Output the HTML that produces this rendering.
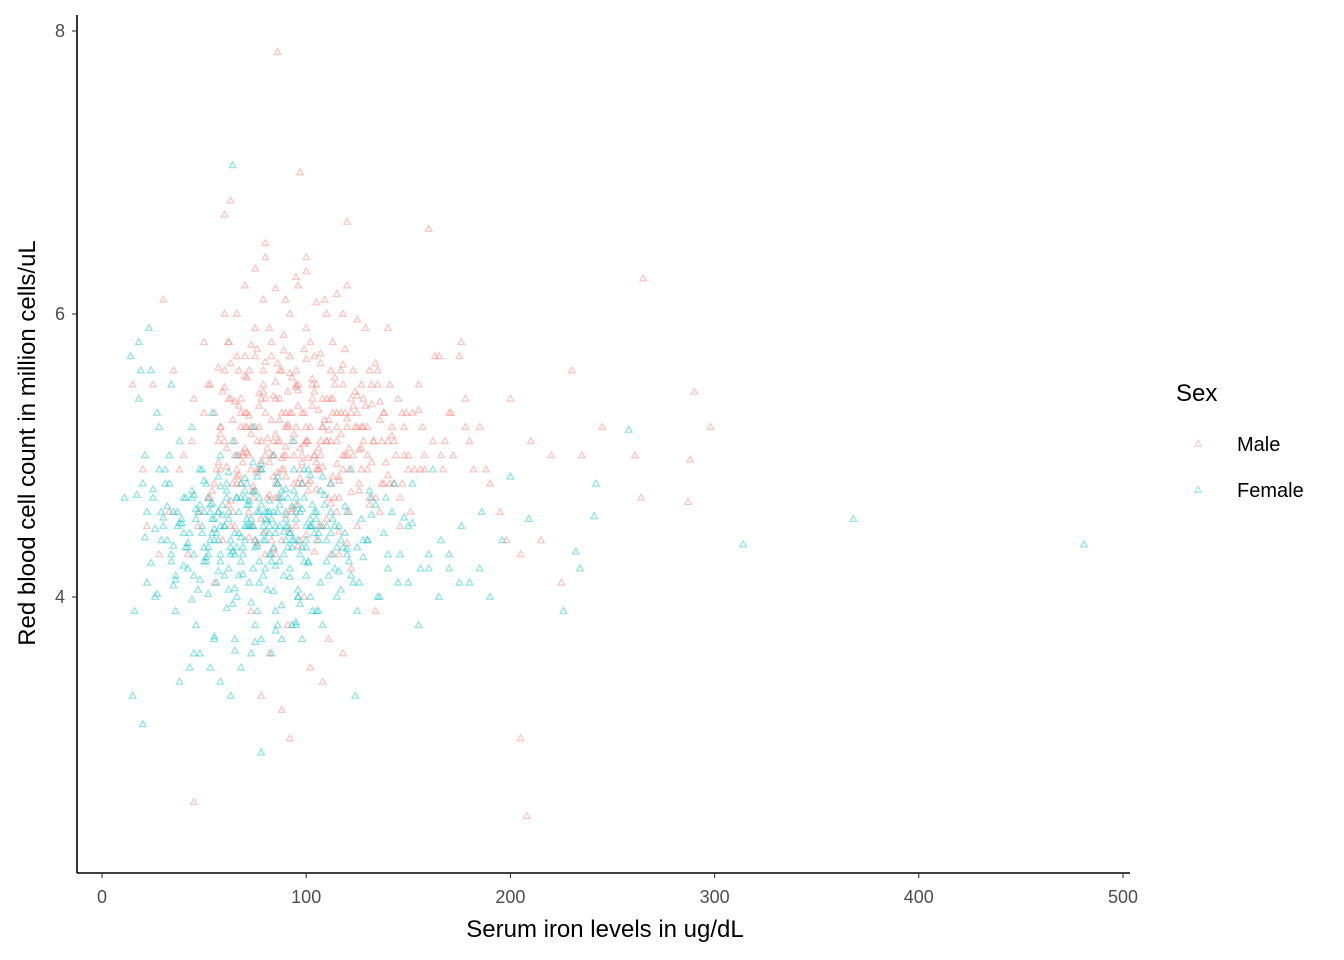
<!DOCTYPE html>
<html><head><meta charset="utf-8">
<style>
html,body{margin:0;padding:0;background:#fff;}
svg{display:block;font-family:"Liberation Sans",sans-serif;}
</style></head>
<body>
<svg id="chart" width="1344" height="960" xmlns="http://www.w3.org/2000/svg"></svg>
<script>
const xTicks=[0,100,200,300,400,500];
const yTicks=[4,6,8];
const seriesNames=["Male","Female"];
const maleX=[86,97,63,265,208,45,205,298,290,288,261,264,287,160,120,60,70,80,90,100,110,120,85,95,75,65,55,105,115,125,130,140,150,145,135,
58,68,78,88,98,108,118,128,138,148,52,62,72,82,92,102,112,122,132,142,152,162,172,182,66,76,86,96,106,116,126,136,146,156,166,
40,45,50,35,30,25,20,15,170,180,190,200,210,220,230,175,185,195,205,215,225,235,245,
60,70,80,90,100,110,65,75,85,95,105,115,125,57,67,77,87,97,107,117,
48,58,68,78,88,98,108,118,128,138,148,158,168,178,53,63,73,83,93,103,113,123,133,143,
42,55,73,82,91,99,111,122,134,155,165,176,188,198,60,80,100,120,140,33,38,44,28,22,
62,71,79,84,93,101,113,119,127,137,147,157,167,55,66,74,89,94,104,112,121,131,141,151,
70,90,110,130,150,80,100,120,85,95,105,115,72,83,78,88,92,102,108,118,
61,64,69,73,77,81,84,87,91,94,98,103,106,109,113,117,123,127,132,136,
59,63,67,71,76,79,83,86,89,93,96,99,104,107,111,114,119,124,129,134,
54,57,62,66,70,74,78,82,85,90,95,97,101,105,110,116,121,126,131,139,
65,68,72,75,80,84,88,92,96,100,104,108,112,115,118,124,128,133,144,149,
56,60,64,69,73,77,81,86,90,94,98,102,106,110,114,119,125,130,137,143,
50,53,58,63,67,71,76,79,83,87,91,95,99,103,107,112,117,122,127,135,
47,52,59,64,68,74,80,85,89,93,97,101,106,111,116,121,138,146,153,158,
62,66,70,75,79,83,87,92,96,100,104,109,113,118,123,129,141,163,171,178,
58,61,65,69,72,76,81,84,88,91,95,99,102,106,111,115,120,126,132,142,
63,67,71,74,78,82,86,90,93,97,101,105,108,112,116,122,127,134,140,147,
57,60,66,70,73,77,80,85,89,92,96,100,103,107,114,118,125,131,136,155,
72,76,80,84,88,92,96,100,104,108,112,116,120,75,85,95,105,115,125,90];
const maleY=[7.85,7.0,6.8,6.25,2.45,2.55,3.0,5.2,5.45,4.97,5.0,4.7,4.67,6.6,6.65,5.6,5.3,5.0,5.2,5.1,5.4,5.0,4.8,5.5,5.7,5.0,5.3,4.9,5.2,5.3,5.0,5.1,4.9,5.4,5.6,
5.2,5.4,5.1,5.3,5.0,5.2,5.5,5.1,5.3,5.0,5.5,5.8,5.6,5.9,5.7,5.8,5.6,5.4,5.5,5.2,5.3,5.1,5.0,4.9,4.8,4.9,4.7,4.8,4.9,4.7,4.8,4.6,4.7,4.9,5.0,
5.0,5.4,5.8,5.6,6.1,5.5,4.9,5.5,5.3,5.1,4.8,5.4,5.1,5.0,5.6,5.7,5.2,4.6,4.3,4.4,4.1,5.0,5.2,
6.0,6.2,6.4,6.1,6.3,6.0,4.5,4.4,4.3,4.5,4.4,4.6,4.5,5.1,5.0,5.2,5.1,4.9,5.0,5.3,
4.6,4.9,5.2,5.4,5.6,5.3,5.2,5.0,5.2,5.3,5.2,4.9,5.1,5.2,4.7,4.5,4.9,5.0,5.1,5.4,5.3,5.0,5.1,4.8,
4.3,4.1,3.9,3.6,3.8,4.0,3.7,4.2,3.9,5.5,5.7,5.8,4.9,4.4,6.7,6.5,6.4,6.2,5.9,4.6,4.9,5.1,4.3,4.5,
5.4,5.2,5.6,5.0,5.3,5.1,5.4,5.3,5.5,5.1,5.3,5.2,4.9,4.8,4.9,4.7,5.0,4.8,5.0,4.8,4.9,4.7,4.8,4.6,
5.2,5.0,5.1,5.2,5.0,5.3,5.1,5.2,5.4,5.2,5.5,5.1,4.6,4.4,3.3,3.2,3.0,3.5,3.4,3.6,
5.05,5.25,4.95,5.15,5.35,5.05,4.85,5.25,5.45,5.15,4.95,5.35,5.05,5.25,4.85,5.15,5.35,5.05,4.95,5.25,
5.45,5.65,5.35,5.55,5.75,5.45,5.25,5.65,5.85,5.55,5.35,5.75,5.45,5.65,5.25,5.55,5.75,5.45,5.35,5.65,
4.75,4.95,4.65,4.85,5.05,4.75,4.55,4.95,5.15,4.85,4.65,5.05,4.75,4.95,4.55,4.85,5.05,4.75,4.65,4.95,
5.1,5.3,5.0,5.2,5.4,5.1,4.9,5.3,5.5,5.2,5.0,5.4,5.1,5.3,4.9,5.2,5.4,5.1,5.0,5.3,
4.9,5.1,4.8,5.0,5.2,4.9,4.7,5.1,5.3,5.0,4.8,5.2,4.9,5.1,4.7,5.0,5.2,4.9,4.8,5.1,
5.3,5.5,5.2,5.4,5.6,5.3,5.1,5.5,5.7,5.4,5.2,5.6,5.3,5.5,5.1,5.4,5.6,5.3,5.2,5.5,
4.5,4.7,4.4,4.6,4.8,4.5,4.3,4.7,4.9,4.6,4.4,4.8,4.5,4.7,4.3,4.6,4.8,4.5,4.9,5.0,
5.8,6.0,5.7,5.9,6.1,5.8,5.6,6.0,6.2,5.9,5.7,6.1,5.8,6.0,5.6,5.9,5.5,5.7,5.3,5.4,
5.15,4.92,5.38,5.02,5.28,4.88,5.12,5.42,4.98,5.22,5.48,5.08,4.82,5.32,5.18,4.94,5.26,5.04,5.36,5.14,
4.68,4.86,5.02,4.78,4.96,4.72,4.88,5.06,4.62,4.84,4.98,4.76,4.92,4.66,4.82,4.74,4.9,4.7,4.86,4.8,
5.62,5.48,5.7,5.56,5.78,5.44,5.66,5.52,5.74,5.58,5.46,5.68,5.54,5.72,5.5,5.64,5.42,5.6,5.38,5.32,
4.42,4.38,4.46,4.34,4.4,4.48,4.36,4.44,4.32,4.5,4.3,4.46,4.38,6.32,6.18,6.26,6.08,6.14,5.96,4.58];
const femaleX=[64,481,368,314,258,242,241,232,234,226,209,200,15,20,124,78,
60,70,80,90,100,50,40,30,20,65,75,85,95,55,45,35,25,110,120,130,140,150,160,170,
62,72,82,92,102,52,42,32,22,68,78,88,98,58,48,38,28,18,112,122,132,142,152,162,
66,76,86,96,106,56,46,36,26,16,114,126,136,146,156,166,176,186,196,
61,71,81,91,101,51,41,31,21,11,64,74,84,94,54,44,34,24,14,
60,70,80,90,100,110,120,130,140,150,160,170,180,190,
57,67,77,87,97,107,117,53,63,73,83,93,103,113,123,
45,55,65,75,85,95,105,115,125,135,145,155,165,175,185,
38,43,48,53,58,63,68,73,78,83,88,93,98,103,108,18,19,23,27,33,
62,71,79,86,94,58,49,37,29,68,77,84,91,99,105,116,128,
58,63,69,74,79,89,96,102,47,52,57,66,72,76,82,87,
41,46,50,54,59,63,67,71,75,79,83,87,91,95,100,104,109,115,121,127,
39,44,49,53,57,62,66,70,74,78,82,86,90,94,98,103,108,113,119,131,
36,42,47,51,56,60,64,69,73,77,81,85,89,93,97,101,106,111,117,125,
43,48,52,55,61,65,68,72,76,80,84,88,92,96,99,102,107,112,118,134,
34,40,45,50,54,58,62,67,71,75,79,83,87,92,96,100,105,110,122,138,
29,33,37,44,49,53,57,61,66,70,74,78,82,86,90,95,99,104,114,143,
38,42,46,51,55,59,64,68,72,76,81,85,89,93,97,102,106,112,120,148,
35,40,44,48,52,57,61,65,69,73,77,80,84,88,92,96,101,107,116,128,
45,50,54,58,62,66,70,74,78,82,86,90,94,98,102,109,119,132,139,152,
17,22,26,31,35,39,24,28,32,36,21,25,30,34,27,55,65,75,85,95];
const femaleY=[7.05,4.37,4.55,4.37,5.18,4.8,4.57,4.32,4.2,3.9,4.55,4.85,3.3,3.1,3.3,2.9,
4.5,4.4,4.6,4.5,4.4,4.6,4.7,4.5,4.8,4.3,4.4,4.5,4.6,4.4,4.3,4.6,4.7,4.5,4.6,4.4,4.3,4.5,4.2,4.3,
4.2,4.1,4.3,4.2,4.0,4.3,4.2,4.4,4.1,4.8,4.9,4.7,4.8,5.0,4.9,5.1,5.2,5.4,4.8,4.9,4.7,4.6,4.8,4.9,
4.0,3.9,3.8,4.0,3.9,4.1,3.8,3.9,4.0,3.9,4.2,4.1,4.0,4.3,4.2,4.4,4.5,4.6,4.4,
4.7,4.8,4.6,4.7,4.9,4.8,4.7,4.9,5.0,4.7,5.1,5.2,5.0,5.1,5.3,5.2,5.5,5.6,5.7,
4.5,4.5,4.4,4.6,4.5,4.4,4.3,4.4,4.2,4.1,4.3,4.2,4.1,4.0,
4.6,4.6,4.7,4.5,4.6,4.5,4.4,4.4,4.3,4.5,4.3,4.4,4.5,4.3,4.1,
3.6,3.7,3.7,3.8,3.9,3.8,3.9,4.0,3.9,4.0,4.1,3.8,4.0,4.1,4.2,
3.4,3.5,3.6,3.5,3.4,3.3,3.5,3.6,3.7,3.6,3.7,3.8,3.7,3.9,3.8,5.8,5.6,5.9,5.3,5.0,
4.6,4.5,4.5,4.6,4.4,4.5,4.5,4.6,4.4,4.7,4.6,4.6,4.5,4.7,4.6,4.5,4.4,
4.3,4.4,4.3,4.2,4.4,4.3,4.4,4.5,4.6,4.7,4.6,4.7,4.5,4.6,4.5,4.7,
4.35,4.55,4.25,4.45,4.65,4.35,4.15,4.55,4.75,4.45,4.25,4.65,4.35,4.55,4.15,4.45,4.65,4.35,4.25,4.55,
4.55,4.75,4.45,4.65,4.85,4.55,4.35,4.75,4.95,4.65,4.45,4.85,4.55,4.75,4.35,4.65,4.85,4.55,4.45,4.75,
4.15,4.35,4.05,4.25,4.45,4.15,3.95,4.35,4.55,4.25,4.05,4.45,4.15,4.35,3.95,4.25,4.45,4.15,4.05,4.35,
4.45,4.65,4.35,4.55,4.75,4.45,4.25,4.65,4.85,4.55,4.35,4.75,4.45,4.65,4.25,4.55,4.75,4.45,4.35,4.65,
4.25,4.45,4.15,4.35,4.55,4.25,4.05,4.45,4.65,4.35,4.15,4.55,4.25,4.45,4.05,4.35,4.55,4.25,4.15,4.45,
4.6,4.8,4.5,4.7,4.9,4.6,4.4,4.8,5.0,4.7,4.5,4.9,4.6,4.8,4.4,4.7,4.9,4.6,4.5,4.8,
4.52,4.38,4.62,4.28,4.48,4.58,4.32,4.42,4.68,4.36,4.54,4.22,4.46,4.64,4.3,4.5,4.4,4.6,4.34,4.56,
4.08,4.22,3.98,4.12,4.02,4.18,3.92,4.06,4.16,3.96,4.1,4.2,4.04,3.94,4.14,4.0,4.24,4.1,4.18,4.28,
4.72,4.82,4.66,4.78,4.88,4.7,4.84,4.74,4.94,4.68,4.8,4.76,4.9,4.62,4.86,4.72,4.64,4.58,4.7,4.52,
4.72,4.6,4.48,4.8,4.36,4.52,4.24,4.9,4.64,4.12,4.42,4.76,4.56,4.3,4.02,3.72,3.62,3.68,3.76,3.82];

const svg=document.getElementById('chart');
const NS="http://www.w3.org/2000/svg";
const L=77,R=1130,T=15,B=873;
function xs(v){return 102+v*(1123-102)/500;}
function ys(v){return 597-(v-4)*(597-314)/2;}
function mk(tag,attrs){const e=document.createElementNS(NS,tag);for(const k in attrs)e.setAttribute(k,attrs[k]);svg.appendChild(e);return e;}
function tri(x,y,color,op){return mk('path',{d:`M${x} ${y-3.6}L${x+3.3} ${y+2.2}L${x-3.3} ${y+2.2}Z`,fill:'none',stroke:color,'stroke-width':1.3,'stroke-opacity':op});}

const colors=["#F8766D","#00BFC4"];
const sets=[[maleX,maleY],[femaleX,femaleY]];
sets.forEach((s,si)=>{
  for(let i=0;i<s[0].length;i++){
    const p=tri(xs(s[0][i]),ys(s[1][i]),colors[si],0.42);
    
    
  }
});

const xa=mk('line',{x1:L,y1:B,x2:R,y2:B,stroke:'#000','stroke-width':1.6});


const ya=mk('line',{x1:L,y1:T,x2:L,y2:B,stroke:'#000','stroke-width':1.6});



xTicks.forEach(t=>{
  const x=xs(t);
  const tk=mk('line',{x1:x,y1:B,x2:x,y2:B+5,stroke:'#333','stroke-width':1.1});
  
  
  const tx=mk('text',{x:x,y:B+30,'text-anchor':'middle','font-size':18,fill:'#4d4d4d'});
  tx.textContent=t;
  
  
});
yTicks.forEach(t=>{
  const y=ys(t);
  const tk=mk('line',{x1:L-5,y1:y,x2:L,y2:y,stroke:'#333','stroke-width':1.1});
  
  
  const tx=mk('text',{x:L-12,y:y+6,'text-anchor':'end','font-size':18,fill:'#4d4d4d'});
  tx.textContent=t;
  
  
});

const xt=mk('text',{x:605,y:937,'text-anchor':'middle','font-size':24,fill:'#000'});
xt.textContent='Serum iron levels in ug/dL';


const yt=mk('text',{x:0,y:0,'text-anchor':'middle','font-size':24,fill:'#000',transform:'translate(35,443) rotate(-90)'});
yt.textContent='Red blood cell count in million cells/uL';



const lt=mk('text',{x:1176,y:401,'font-size':24,fill:'#000'});
lt.textContent='Sex';


seriesNames.forEach((n,i)=>{
  const y=444+i*46;
  const k=tri(1198,y,colors[i],0.35);
  
  
  const t=mk('text',{x:1237,y:y+7,'font-size':20,fill:'#000'});
  t.textContent=n;
  
  
});
</script>
</body></html>
